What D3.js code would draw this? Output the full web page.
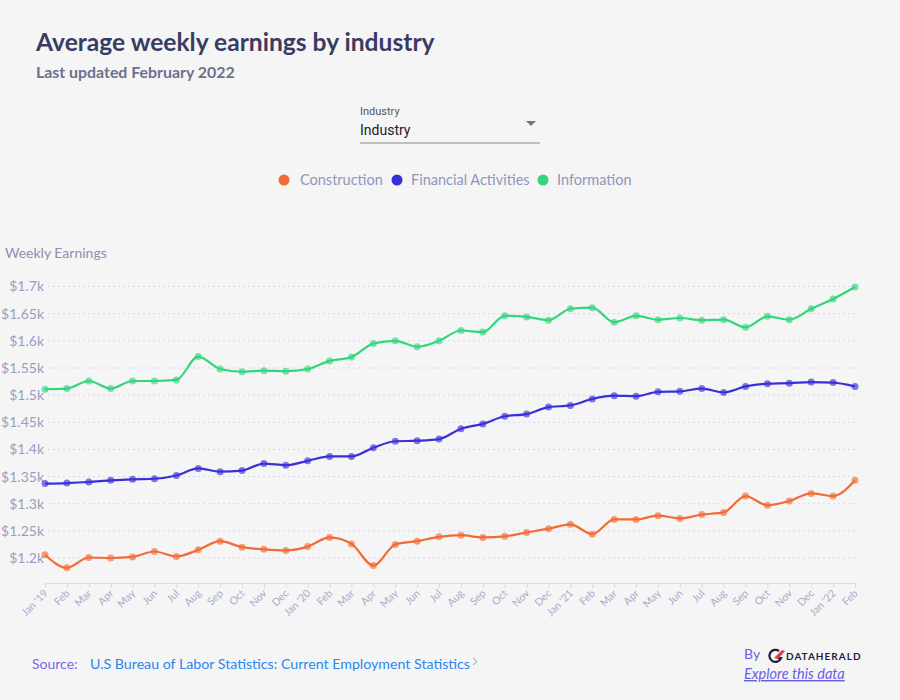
<!DOCTYPE html>
<html><head><meta charset="utf-8">
<script src="https://cdn.jsdelivr.net/npm/d3@7"></script>
<style>
body{margin:0;background:#f5f5f5;}
svg{display:block;font-family:Lato,"Noto Sans",sans-serif;}
</style></head>
<body><svg id="chart" width="900" height="700"></svg>
<script>
const months = ["Jan '19","Feb","Mar","Apr","May","Jun","Jul","Aug","Sep","Oct","Nov","Dec",
"Jan '20","Feb","Mar","Apr","May","Jun","Jul","Aug","Sep","Oct","Nov","Dec",
"Jan '21","Feb","Mar","Apr","May","Jun","Jul","Aug","Sep","Oct","Nov","Dec",
"Jan '22","Feb"];
const construction = [1206,1182,1201,1200,1202,1212,1203,1215,1231,1220,1216,1214,
1221,1238,1226,1186,1225,1231,1239,1242,1238,1240,1247,1254,
1262,1244,1271,1271,1278,1273,1280,1284,1314,1297,1305,1319,1314,1343];
const financial = [1337,1338,1340,1343,1345,1346,1352,1365,1359,1361,1374,1371,
1379,1387,1387,1403,1415,1416,1419,1438,1447,1461,1465,1478,
1481,1493,1499,1498,1506,1507,1512,1505,1516,1521,1522,1524,1523,1516];
const information = [1511,1512,1526,1512,1526,1526,1528,1571,1548,1543,1545,1544,
1548,1563,1570,1595,1600,1589,1600,1619,1616,1646,1644,1638,
1659,1661,1634,1646,1639,1642,1638,1639,1625,1645,1639,1659,1677,1699];
const seriesNames = ["Construction","Financial Activities","Information"];
const seriesColors = ["#f26b35","#3a2fd8","#33d67c"];
const yTicks = [1200,1250,1300,1350,1400,1450,1500,1550,1600,1650,1700];

const svg = d3.select("#chart");
const seriesData = [construction, financial, information];

// Title
svg.append("text").attr("x",36).attr("y",51).attr("font-size",24.6).attr("font-weight",700)
  .attr("fill","#383c62").text("Average weekly earnings by industry");
svg.append("text").attr("x",36).attr("y",78).attr("font-size",15.9).attr("font-weight",700)
  .attr("fill","#6c7090").text("Last updated February 2022");

// Dropdown
const dd = svg.append("g").attr("font-family","Roboto,sans-serif");
dd.append("text").attr("x",360).attr("y",115).attr("font-size",11).attr("fill","#555").text("Industry");
dd.append("text").attr("x",360).attr("y",135).attr("font-size",14).attr("fill","#222").text("Industry");
dd.append("line").attr("x1",360).attr("x2",540).attr("y1",143).attr("y2",143).attr("stroke","#888").attr("stroke-width",1);
dd.append("path").attr("d","M526,121 L536,121 L531,126 Z").attr("fill","#777");

// Legend
const legendPos = [{cx:284,tx:300},{cx:397,tx:411},{cx:543,tx:557}];
seriesNames.forEach((n,i)=>{
  svg.append("circle").attr("cx",legendPos[i].cx).attr("cy",180).attr("r",5.5).attr("fill",seriesColors[i]);
  svg.append("text").attr("x",legendPos[i].tx).attr("y",185).attr("font-size",14.5).attr("fill","#9095bb").text(n);
});

svg.append("text").attr("x",5).attr("y",258).attr("font-size",14).attr("fill","#8b90b3").text("Weekly Earnings");

// Scales
const x = d3.scalePoint().domain(d3.range(months.length)).range([45,855]);
const y = d3.scaleLinear().domain([1154,1700]).range([583,286.5]);

// Grid
const grid = svg.append("g");
yTicks.forEach(t=>{
  grid.append("line").attr("x1",48).attr("x2",856).attr("y1",y(t)).attr("y2",y(t))
    .attr("stroke","#d6d6f2").attr("stroke-width",1).attr("stroke-dasharray","2,3");
});
const yAxis = d3.axisLeft(y).tickValues(yTicks).tickSize(0).tickPadding(0)
  .tickFormat(d=>"$"+(d/1000)+"k");
const yg = svg.append("g").attr("transform","translate(44,0)").call(yAxis);
yg.select(".domain").remove();
yg.selectAll("text").attr("font-size",14).attr("fill","#9a9dc2").attr("font-family","Lato,sans-serif");

// X axis
const xAxis = d3.axisBottom(x).tickSize(5).tickFormat(i=>months[i]);
const xg = svg.append("g").attr("transform","translate(0,583)").call(xAxis);
xg.select(".domain").attr("stroke","#d8d8ee").attr("d","M45,0.5H855");
xg.selectAll(".tick line").attr("stroke","#d8d8ee");
xg.selectAll("text").attr("font-size",10.5).attr("fill","#a9abcc").attr("font-family","Lato,sans-serif")
  .attr("text-anchor","end").attr("dy",0).attr("y",0)
  .attr("transform","translate(3,11) rotate(-45)");

// Lines
const line = d3.line().x((d,i)=>x(i)).y(d=>y(d)).curve(d3.curveMonotoneX);
seriesData.forEach((s,k)=>{
  svg.append("path").datum(s).attr("d",line).attr("fill","none")
    .attr("stroke",seriesColors[k]).attr("stroke-width",2.2);
  svg.append("g").selectAll("circle").data(s).join("circle")
    .attr("cx",(d,i)=>x(i)).attr("cy",d=>y(d)).attr("r",3.5)
    .attr("fill",seriesColors[k]).attr("fill-opacity",0.65);
});

// Footer
svg.append("text").attr("x",32).attr("y",669).attr("font-size",14).attr("fill","#7a68e8").text("Source:");
svg.append("text").attr("x",90).attr("y",669).attr("font-size",14.2).attr("fill","#2b86ef")
  .text("U.S Bureau of Labor Statistics: Current Employment Statistics");
svg.append("path").attr("d","M473,658 L477,661.5 L473,665").attr("fill","none").attr("stroke","#999").attr("stroke-width",1);

svg.append("text").attr("x",744).attr("y",659).attr("font-size",14).attr("fill","#6a60e0").text("By");
const logo = svg.append("g").attr("transform","translate(769,649)");
logo.append("path").attr("d","M10,2 A6,6 0 1 0 12,9 L8,9").attr("fill","none").attr("stroke","#1d1f3e").attr("stroke-width",2.2);
logo.append("path").attr("d","M5,9 L13,1 L16,2 L9,10 Z").attr("fill","#e63946");
svg.append("text").attr("x",786).attr("y",660).attr("font-size",10).attr("font-weight",700)
  .attr("letter-spacing",1.0).attr("fill","#1d1f3e").text("DATAHERALD");
svg.append("text").attr("x",744).attr("y",679).attr("font-size",14.5).attr("font-style","italic")
  .attr("fill","#6a60e0").attr("text-decoration","underline").text("Explore this data");
</script></body></html>
